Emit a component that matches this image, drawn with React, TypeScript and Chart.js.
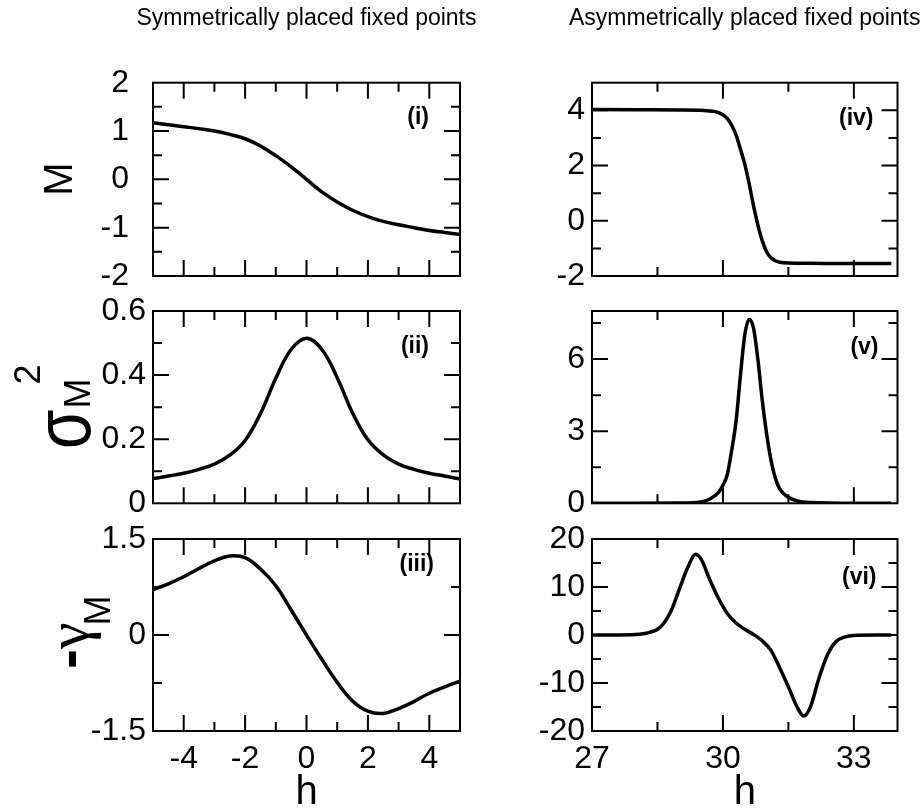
import React, { useEffect, useRef } from "react";
import { Chart, registerables } from "chart.js";

Chart.register(...registerables);

const FONT = "'Liberation Sans', Arial, Helvetica, sans-serif";
const SERIF = "'Liberation Serif', 'DejaVu Serif', serif";
const W = 922;
const H = 808;

// ---------- data ----------
const symH = [-5, -4.5, -4, -3.5, -3, -2.5, -2, -1.5, -1, -0.5, 0, 0.5, 1, 1.5, 2, 2.5, 3, 3.5, 4, 4.5, 5];
const symM = [1.17, 1.13, 1.09, 1.05, 1.0, 0.93, 0.84, 0.69, 0.49, 0.26, 0, -0.26, -0.47, -0.64, -0.77, -0.87, -0.94, -1.0, -1.06, -1.1, -1.14];
const symVar = [0.077, 0.085, 0.094, 0.106, 0.122, 0.15, 0.196, 0.28, 0.39, 0.48, 0.515, 0.48, 0.392, 0.282, 0.198, 0.151, 0.122, 0.106, 0.094, 0.085, 0.076];
const symGamma = [0.71, 0.8, 0.91, 1.04, 1.16, 1.235, 1.21, 1.03, 0.77, 0.39, 0, -0.38, -0.74, -1.03, -1.19, -1.225, -1.15, -1.04, -0.91, -0.81, -0.72];

const asymMH = [27, 28, 29, 29.5, 29.8, 30.0, 30.1, 30.2, 30.3, 30.4, 30.5, 30.6, 30.7, 30.8, 30.9, 31.0, 31.1, 31.2, 31.3, 31.5, 32, 33, 33.86];
const asymM = [4.03, 4.02, 4.01, 4.0, 3.96, 3.84, 3.7, 3.46, 3.11, 2.6, 2.05, 1.35, 0.55, -0.15, -0.72, -1.12, -1.34, -1.45, -1.5, -1.53, -1.54, -1.55, -1.55];

const asymVarH = [27, 28, 29, 29.5, 29.7, 29.9, 30.0, 30.1, 30.2, 30.3, 30.4, 30.5, 30.6, 30.7, 30.8, 30.9, 31.0, 31.1, 31.2, 31.3, 31.5, 31.7, 32, 33, 33.86];
const asymVar = [0, 0, 0.01, 0.06, 0.18, 0.45, 0.75, 1.2, 2.2, 3.4, 5.3, 7.0, 7.65, 7.3, 6.0, 4.3, 2.9, 1.8, 1.05, 0.6, 0.25, 0.1, 0.03, 0, 0];

const asymGammaH = [27, 27.5, 28, 28.3, 28.55, 28.8, 29.0, 29.2, 29.37, 29.5, 29.7, 29.9, 30.1, 30.3, 30.5, 30.7, 30.9, 31.1, 31.3, 31.5, 31.7, 31.85, 32.0, 32.2, 32.4, 32.6, 32.8, 33, 33.5, 33.86];
const asymGamma = [0, 0, 0.1, 0.5, 1.5, 4.8, 9.5, 14.2, 16.8, 15.8, 11.5, 7.6, 4.5, 2.5, 1.2, 0.1, -1.2, -3.2, -6.8, -10.8, -15.0, -16.9, -15.1, -9.0, -4.0, -1.3, -0.4, -0.1, 0, 0];

// tick labels / minor ticks
const symXLabels = [-4, -2, 0, 2, 4];
const symXMinor = [-3, -1, 1, 3];
const asymXLabels = [27, 30, 33];
const asymXMinor = [28.5, 31.5];

const yLabelsI = [-2, -1, 0, 1, 2];
const yMinorI = [-1.5, -0.5, 0.5, 1.5];
const yLabelsII = [0, 0.2, 0.4, 0.6];
const yMinorII = [0.1, 0.3, 0.5];
const yLabelsIII = [-1.5, 0, 1.5];
const yMinorIII = [-0.75, 0.75];
const yLabelsIV = [-2, 0, 2, 4];
const yMinorIV = [-1, 1, 3];
const yLabelsV = [0, 3, 6];
const yMinorV = [1.5, 4.5, 7.5];
const yLabelsVI = [-20, -10, 0, 10, 20];
const yMinorVI = [-15, -5, 5, 15];

const colTitles = ["Symmetrically placed fixed points", "Asymmetrically placed fixed points"];
const panelTags = ["(i)", "(ii)", "(iii)", "(iv)", "(v)", "(vi)"];
const xTitle = "h";

// ---------- layout ----------
type Seg = { text: string; size: number; bold?: boolean; shift?: number; dx?: number; sx?: number; family?: string };

interface PanelCfg {
  key: string;
  xs: number[];
  ys: number[];
  smooth: "monotone" | "default";
  rect: [number, number, number, number]; // left, top, right, bottom
  xMin: number; xMax: number; yMin: number; yMax: number;
  xLabels: number[]; xMinor: number[];
  yLabels: number[]; yMinor: number[];
  showX: boolean;
  yPad: number;
  tag: string; tagDx: number; tagDy: number;
  title?: string;
  yTitle?: { segs: Seg[]; baseX: number; startY?: number; centerY?: number };
}

const LX: [number, number] = [153, 460];
const RX: [number, number] = [592, 897.5];
const R1: [number, number] = [82.7, 276];
const R2: [number, number] = [311, 503.3];
const R3: [number, number] = [539, 731];

const panels: PanelCfg[] = [
  {
    key: "i", xs: symH, ys: symM, smooth: "default", rect: [LX[0], R1[0], LX[1], R1[1]],
    xMin: -5, xMax: 5, yMin: -2, yMax: 2,
    xLabels: symXLabels, xMinor: symXMinor, yLabels: yLabelsI, yMinor: yMinorI,
    showX: false, yPad: 24, tag: panelTags[0], tagDx: 31, tagDy: 35, title: colTitles[0],
    yTitle: { segs: [{ text: "M", size: 40 }], baseX: 72, centerY: 179 },
  },
  {
    key: "ii", xs: symH, ys: symVar, smooth: "default", rect: [LX[0], R2[0], LX[1], R2[1]],
    xMin: -5, xMax: 5, yMin: 0, yMax: 0.6,
    xLabels: symXLabels, xMinor: symXMinor, yLabels: yLabelsII, yMinor: yMinorII,
    showX: false, yPad: 7, tag: panelTags[1], tagDx: 31, tagDy: 36,
    yTitle: {
      segs: [
        { text: "σ", size: 80, sx: 0.8 },
        { text: "M", size: 36, dx: 1 },
        { text: "2", size: 36, shift: 50, dx: -6 },
      ],
      baseX: 90, startY: 449,
    },
  },
  {
    key: "iii", xs: symH, ys: symGamma, smooth: "default", rect: [LX[0], R3[0], LX[1], R3[1]],
    xMin: -5, xMax: 5, yMin: -1.5, yMax: 1.5,
    xLabels: symXLabels, xMinor: symXMinor, yLabels: yLabelsIII, yMinor: yMinorIII,
    showX: true, yPad: 7, tag: panelTags[2], tagDx: 26, tagDy: 26,
    yTitle: {
      segs: [
        { text: "-", size: 60, bold: true },
        { text: "γ", size: 60, family: SERIF },
        { text: "M", size: 36, shift: -22, dx: -3 },
      ],
      baseX: 88, startY: 669,
    },
  },
  {
    key: "iv", xs: asymMH, ys: asymM, smooth: "monotone", rect: [RX[0], R1[0], RX[1], R1[1]],
    xMin: 27, xMax: 34, yMin: -2, yMax: 5,
    xLabels: asymXLabels, xMinor: asymXMinor, yLabels: yLabelsIV, yMinor: yMinorIV,
    showX: false, yPad: 7, tag: panelTags[3], tagDx: 24, tagDy: 36, title: colTitles[1],
  },
  {
    key: "v", xs: asymVarH, ys: asymVar, smooth: "monotone", rect: [RX[0], R2[0], RX[1], R2[1]],
    xMin: 27, xMax: 34, yMin: 0, yMax: 8,
    xLabels: asymXLabels, xMinor: asymXMinor, yLabels: yLabelsV, yMinor: yMinorV,
    showX: false, yPad: 7, tag: panelTags[4], tagDx: 19, tagDy: 37,
  },
  {
    key: "vi", xs: asymGammaH, ys: asymGamma, smooth: "monotone", rect: [RX[0], R3[0], RX[1], R3[1]],
    xMin: 27, xMax: 34, yMin: -20, yMax: 20,
    xLabels: asymXLabels, xMinor: asymXMinor, yLabels: yLabelsVI, yMinor: yMinorVI,
    showX: true, yPad: 7, tag: panelTags[5], tagDx: 21, tagDy: 39,
  },
];

const Y_AXIS_W = 100;
const X_AXIS_H = 60;
const MAJOR = 16;
const MINOR = 9;

function segFont(s: Seg) {
  return `${s.bold ? "bold " : ""}${s.size}px ${s.family || FONT}`;
}

function makeDecor(p: PanelCfg) {
  return {
    id: "decor_" + p.key,
    afterDraw(chart: any) {
      const ctx: CanvasRenderingContext2D = chart.ctx;
      const { left, right, top, bottom } = chart.chartArea;
      const xs = chart.scales.x;
      const ys = chart.scales.y;
      ctx.save();
      ctx.strokeStyle = "#000";
      ctx.fillStyle = "#000";
      ctx.lineWidth = 2;
      ctx.lineCap = "butt";
      const eps = 1e-9;
      const xTick = (v: number, len: number) => {
        if (Math.abs(v - p.xMin) < eps || Math.abs(v - p.xMax) < eps) return;
        const px = xs.getPixelForValue(v);
        ctx.beginPath();
        ctx.moveTo(px, bottom); ctx.lineTo(px, bottom - len);
        ctx.moveTo(px, top); ctx.lineTo(px, top + len);
        ctx.stroke();
      };
      const yTick = (v: number, len: number) => {
        if (Math.abs(v - p.yMin) < eps || Math.abs(v - p.yMax) < eps) return;
        const py = ys.getPixelForValue(v);
        ctx.beginPath();
        ctx.moveTo(left, py); ctx.lineTo(left + len, py);
        ctx.moveTo(right, py); ctx.lineTo(right - len, py);
        ctx.stroke();
      };
      p.xLabels.forEach((v) => xTick(v, MAJOR));
      p.xMinor.forEach((v) => xTick(v, MINOR));
      p.yLabels.forEach((v) => yTick(v, MAJOR));
      p.yMinor.forEach((v) => yTick(v, MINOR));
      ctx.strokeRect(left, top, right - left, bottom - top);

      // panel tag
      ctx.font = `bold 23px ${FONT}`;
      ctx.textAlign = "right";
      ctx.textBaseline = "middle";
      ctx.fillText(p.tag, right - p.tagDx, top + p.tagDy);

      // column title
      if (p.title) {
        ctx.font = `23px ${FONT}`;
        ctx.textAlign = "center";
        ctx.textBaseline = "alphabetic";
        ctx.fillText(p.title, (left + right) / 2, 25);
      }
      // x title
      if (p.showX) {
        ctx.font = `40px ${FONT}`;
        ctx.textAlign = "center";
        ctx.textBaseline = "alphabetic";
        ctx.fillText(xTitle, (left + right) / 2, 804);
      }
      // y title (rotated rich text)
      if (p.yTitle) {
        const t = p.yTitle;
        const widths = t.segs.map((s) => {
          ctx.font = segFont(s);
          return ctx.measureText(s.text).width * (s.sx || 1) + (s.dx || 0);
        });
        const total = widths.reduce((a, b) => a + b, 0);
        const startY = t.startY !== undefined ? t.startY : (t.centerY as number) + total / 2;
        ctx.translate(t.baseX, startY);
        ctx.rotate(-Math.PI / 2);
        ctx.textAlign = "left";
        ctx.textBaseline = "alphabetic";
        let x = 0;
        t.segs.forEach((s) => {
          ctx.font = segFont(s);
          x += s.dx || 0;
          const sx = s.sx || 1;
          ctx.save();
          ctx.translate(x, -(s.shift || 0));
          ctx.scale(sx, 1);
          ctx.fillText(s.text, 0, 0);
          ctx.restore();
          x += ctx.measureText(s.text).width * sx;
        });
      }
      ctx.restore();
    },
  };
}

function Panel({ p }: { p: PanelCfg }) {
  const ref = useRef<HTMLCanvasElement | null>(null);
  useEffect(() => {
    if (!ref.current) return;
    const [l, t, r, b] = p.rect;
    const points = p.xs.map((x, i) => ({ x, y: p.ys[i] }));
    const chart = new Chart(ref.current, {
      type: "line",
      data: {
        datasets: [
          {
            data: points,
            borderColor: "#000",
            backgroundColor: "#000",
            borderWidth: 3.5,
            pointRadius: 0,
            fill: false,
            tension: 0.4,
            cubicInterpolationMode: p.smooth,
          },
        ],
      },
      options: {
        animation: false,
        responsive: false,
        devicePixelRatio: 1,
        events: [],
        layout: {
          padding: {
            left: l - Y_AXIS_W,
            right: W - r,
            top: t,
            bottom: H - b - X_AXIS_H,
          },
        },
        plugins: { legend: { display: false }, tooltip: { enabled: false }, title: { display: false } },
        scales: {
          x: {
            type: "linear",
            min: p.xMin,
            max: p.xMax,
            grid: { display: false, drawTicks: false },
            border: { display: false },
            afterBuildTicks: (s: any) => {
              s.ticks = p.xLabels.map((v) => ({ value: v }));
            },
            afterFit: (s: any) => {
              s.height = X_AXIS_H;
            },
            ticks: {
              display: p.showX,
              autoSkip: false,
              maxRotation: 0,
              padding: 9,
              color: "#000",
              font: { family: FONT, size: 32 },
              callback: (v: any) => String(v),
            },
          },
          y: {
            type: "linear",
            min: p.yMin,
            max: p.yMax,
            grid: { display: false, drawTicks: false },
            border: { display: false },
            afterBuildTicks: (s: any) => {
              s.ticks = p.yLabels.map((v) => ({ value: v }));
            },
            afterFit: (s: any) => {
              s.width = Y_AXIS_W;
            },
            ticks: {
              autoSkip: false,
              padding: p.yPad,
              color: "#000",
              font: { family: FONT, size: 32 },
              callback: (v: any) => String(v),
            },
          },
        },
      },
      plugins: [makeDecor(p)],
    } as any);
    return () => chart.destroy();
  }, [p]);
  return (
    <canvas
      ref={ref}
      width={W}
      height={H}
      style={{ position: "absolute", left: 0, top: 0, width: W, height: H }}
    />
  );
}

export default function App() {
  return (
    <div
      style={{
        position: "fixed",
        left: 0,
        top: 0,
        width: W,
        height: H,
        background: "#fff",
        overflow: "hidden",
      }}
    >
      {panels.map((p) => (
        <Panel key={p.key} p={p} />
      ))}
    </div>
  );
}
